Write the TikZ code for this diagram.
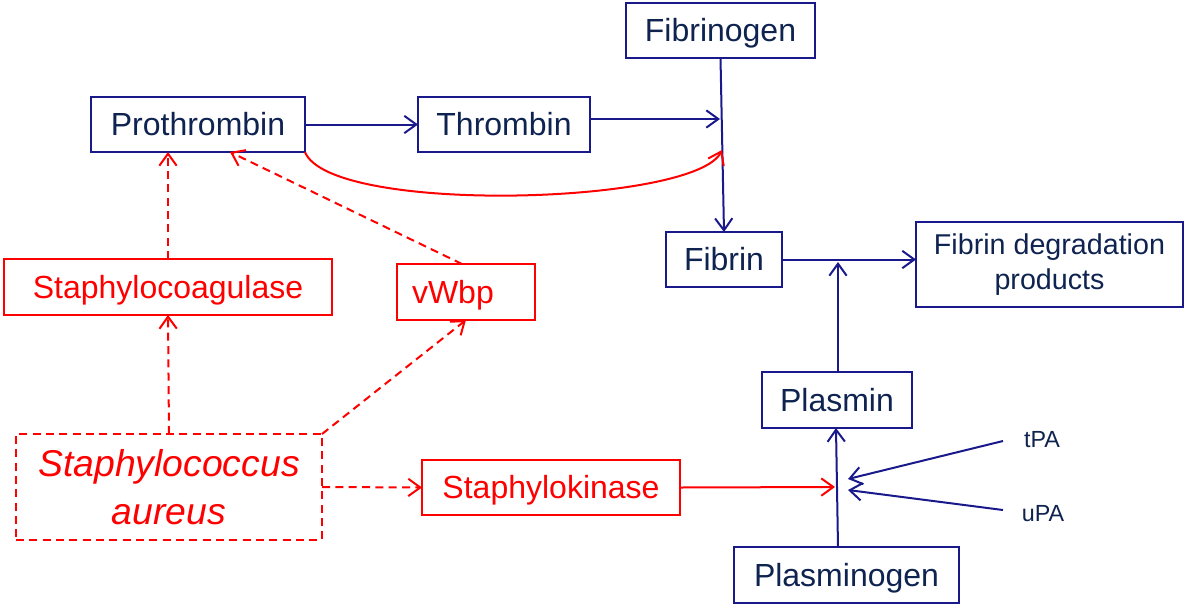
\documentclass[tikz,border=0pt]{standalone}
\usepackage{fontspec}
\setmainfont{Liberation Sans}
\usetikzlibrary{arrows.meta}
\definecolor{navy}{RGB}{25,25,140}
\definecolor{navytext}{RGB}{15,35,80}
\definecolor{sred}{RGB}{255,0,0}
\tikzset{
  bluebox/.style={draw=navy, line width=1.5pt, text=navytext, inner sep=0pt, outer sep=0pt,
    font=\fontsize{24}{28}\selectfont, text height=17pt, text depth=0pt},
  redbox/.style={draw=sred, line width=1.5pt, text=sred, inner sep=0pt, outer sep=0pt,
    font=\fontsize{24}{28}\selectfont, text height=17pt, text depth=0pt},
  barb/.style={-{Straight Barb[length=9pt,width=13pt]}},
  blueline/.style={draw=navy, line width=1.5pt, barb},
  redline/.style={draw=sred, line width=1.5pt, barb},
  reddash/.style={draw=sred, line width=1.5pt, barb, dash pattern=on 6pt off 4pt},
}
\begin{document}
\begin{tikzpicture}[x=0.75pt,y=-0.75pt]
\useasboundingbox (0,0) rectangle (1185,615);
% blue nodes
\node[bluebox, minimum width=141.75pt, minimum height=41.25pt] (fibrinogen) at (720.5,30.5) {Fibrinogen};
\node[bluebox, minimum width=160.5pt, minimum height=41.25pt] (prothrombin) at (198,124.5) {Prothrombin};
\node[bluebox, minimum width=129pt, minimum height=41.25pt] (thrombin) at (504,124.5) {Thrombin};
\node[bluebox, minimum width=87pt, minimum height=41.25pt] (fibrin) at (724,259.5) {Fibrin};
\node[draw=navy, line width=1.5pt, text=navytext, inner sep=0pt, outer sep=0pt, align=center,
  font=\fontsize{21.5}{26}\selectfont, minimum width=200.25pt, minimum height=63.75pt] (fdp) at (1049.5,264.5) {Fibrin degradation\\products};
\node[bluebox, minimum width=112.5pt, minimum height=42pt] (plasmin) at (837,400) {Plasmin};
\node[bluebox, minimum width=168.75pt, minimum height=42pt] (plasminogen) at (846.5,575) {Plasminogen};
\node[text=navytext, font=\fontsize{17.5}{20}\selectfont, inner sep=0pt] (tpa) at (1042,440) {tPA};
\node[text=navytext, font=\fontsize{17.5}{20}\selectfont, inner sep=0pt] (upa) at (1043,514) {uPA};
% red nodes
\node[redbox, minimum width=246pt, minimum height=42pt] (coag) at (168,287) {Staphylocoagulase};
\node[redbox, minimum height=42pt, text width=81pt, inner xsep=11.25pt, align=left] (vwbp) at (466,292) {vWbp};
\node[draw=sred, line width=1.5pt, dash pattern=on 6pt off 4pt, text=sred, inner sep=0pt, outer sep=0pt,
  align=center, font=\fontsize{28}{36}\selectfont\itshape, minimum width=229.5pt, minimum height=79.5pt] (sa) at (169,487) {Staphylococcus\\aureus};
\node[redbox, minimum width=193.5pt, minimum height=41.25pt] (kinase) at (551,487.5) {Staphylokinase};
% junction coordinates
\coordinate (fgj) at (720,119);
\coordinate (curveend) at (722,150);
\coordinate (fdj) at (838,262);
\coordinate (pj) at (835,487);
\coordinate (tpaend) at (848,479);
\coordinate (upaend) at (848,490);
\coordinate (ptv) at (230,152);
\coordinate (tpastart) at (1003,441);
\coordinate (upastart) at (1003,510);
% blue connectors
\draw[blueline] (prothrombin.east) -- (thrombin.west);
\draw[blueline] (thrombin.east |- fgj) -- (fgj);
\draw[blueline] (fibrinogen.south) -- (fibrin.north);
\draw[blueline] (fibrin.east) -- (fibrin.east -| fdp.west);
\draw[blueline] (plasmin.north -| fdj) -- (fdj);
\draw[blueline] (plasminogen.north -| 838,0) -- (plasmin.south -| 836,0);
\draw[blueline] (tpastart) -- (tpaend);
\draw[blueline] (upastart) -- (upaend);
% red connectors
\draw[redline] (prothrombin.south east) .. controls (330,215) and (695,205) .. (curveend);
\draw[redline] (kinase.east) -- (pj);
\draw[reddash] (coag.north) -- (coag.north |- prothrombin.south);
\draw[reddash] (vwbp.north -| 462,0) -- (ptv);
\draw[reddash] (sa.north) -- (coag.south);
\draw[reddash] (sa.north east) -- (vwbp.south);
\draw[reddash] (sa.east) -- (kinase.west);
\end{tikzpicture}
\end{document}
